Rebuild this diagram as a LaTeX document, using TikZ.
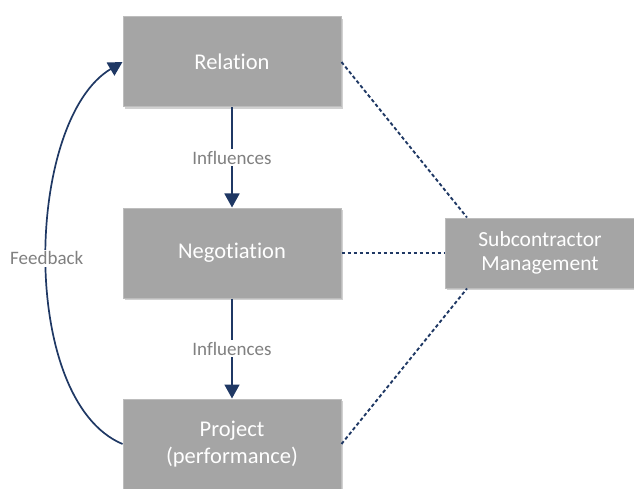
\documentclass[tikz,border=0pt]{standalone}
\usepackage{fontspec}
\setmainfont[Ligatures={NoCommon}]{Carlito}
\usetikzlibrary{arrows.meta,shadows}
\definecolor{boxgray}{HTML}{A5A5A5}
\definecolor{boxedge}{HTML}{BDBDBD}
\definecolor{navy}{HTML}{1F3864}
\definecolor{labelgray}{HTML}{808080}
\begin{document}
\begin{tikzpicture}[x=1pt,y=-1pt,
  box/.style={draw=boxedge,line width=1pt,fill=boxgray,text=white,
    minimum width=218pt,minimum height=90pt,align=center,inner sep=0pt,
    font=\fontsize{22.5}{27}\selectfont,
    drop shadow={shadow xshift=1.5pt,shadow yshift=-2pt,fill=black,opacity=0.18}},
  flow/.style={draw=navy,line width=1.7pt,-{Triangle[length=14pt,width=15pt]}},
  dots/.style={draw=navy,line width=1.9pt,dash pattern=on 3.5pt off 2.5pt},
  lbl/.style={fill=white,text=labelgray,font=\fontsize{19}{22}\selectfont,inner sep=2pt}]
\useasboundingbox (0,0) rectangle (634,489);
\node[box] (rel) at (232,62) {Relation};
\node[box] (neg) at (232,253) {Negotiation};
\node[box] (proj) at (232,444) {\raisebox{-4pt}{Project}\\\raisebox{-4pt}{(performance)}};
\node[box,minimum width=190pt,minimum height=70pt,font=\fontsize{21.5}{24}\selectfont] (sub) at (540,253) {Subcontractor\\Management};
\draw[flow] (rel.south) -- node[lbl] {Influences} (neg.north);
\draw[flow] (neg.south) -- node[lbl] {Influences} (proj.north);
\draw[dots] (rel.east) -- ([xshift=-73pt]sub.north);
\draw[dots] (neg.east) -- (sub.west);
\draw[dots] (proj.east) -- ([xshift=-73pt]sub.south);
\draw[flow] (proj.west) .. controls (18,400) and (25,120) .. (rel.west)
  node[lbl,pos=0.5] {Feedback};
\end{tikzpicture}
\end{document}
